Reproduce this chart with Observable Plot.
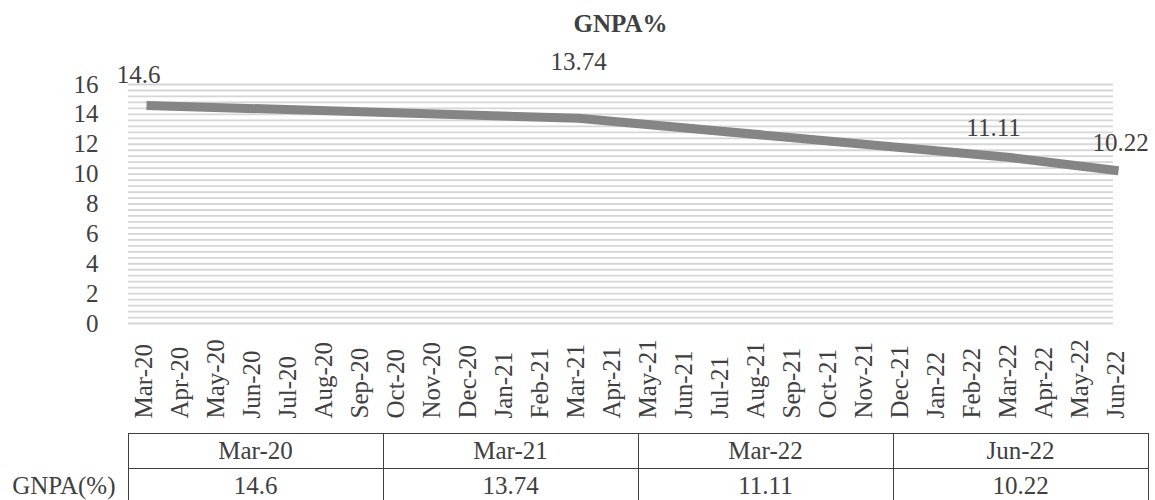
<!DOCTYPE html>
<html><head><meta charset="utf-8">
<script src="https://cdn.jsdelivr.net/npm/d3@7"></script>
<script src="https://cdn.jsdelivr.net/npm/@observablehq/plot@0.6"></script>
<style>
body{margin:0;background:#fff;width:1155px;height:500px;position:relative;overflow:hidden;font-family:"Liberation Serif","Times New Roman",serif;color:#404040;}
#title{position:absolute;left:128px;width:985px;top:0;height:48px;line-height:48px;text-align:center;font-weight:bold;font-size:25px;}
#chart{position:absolute;left:0;top:48px;}
#tbl{position:absolute;left:0;top:433px;border-collapse:collapse;font-size:25px;table-layout:fixed;color:#404040;}
#tbl td{height:34px;padding:0;text-align:center;border:1px solid #404040;}
#tbl td.lab{border:none;text-align:right;padding-right:12px;}
</style></head>
<body>
<div id="title">GNPA%</div>
<div id="chart"></div>
<table id="tbl"></table>
<script>
// ---- data ----
const months = ["Mar-20","Apr-20","May-20","Jun-20","Jul-20","Aug-20","Sep-20","Oct-20","Nov-20","Dec-20","Jan-21","Feb-21","Mar-21","Apr-21","May-21","Jun-21","Jul-21","Aug-21","Sep-21","Oct-21","Nov-21","Dec-21","Jan-22","Feb-22","Mar-22","Apr-22","May-22","Jun-22"];
const periods = ["Mar-20","Mar-21","Mar-22","Jun-22"];
const gnpa = [14.6, 13.74, 11.11, 10.22];
const yTicks = [0,2,4,6,8,10,12,14,16];
const seriesName = "GNPA(%)";

const points = periods.map((p,i)=>({period:p, m: months.indexOf(p), v: gnpa[i]}));
const monthRows = months.map((m,i)=>({label:m, m:i}));
const grid = d3.range(0, 16.0001, 0.4);

const txt = "#404040";
const plot = Plot.plot({
  width: 1155,
  height: 384,
  marginLeft: 128,
  marginRight: 42,
  marginTop: 36,
  marginBottom: 109,
  style: {fontFamily: '"Liberation Serif","Times New Roman",serif', fontSize: "25px", color: txt, background: "transparent"},
  x: {type: "linear", domain: [-0.5, 26.86], axis: null},
  y: {domain: [0, 16], axis: null},
  marks: [
    Plot.ruleY(grid, {stroke: "#d6d6d6", strokeWidth: 1.8}),
    Plot.axisY(yTicks, {tickSize: 0, tickPadding: 30, fontSize: 25, fill: txt, label: null}),
    Plot.text(monthRows, {x: "m", text: "label", frameAnchor: "bottom", dx: 5, dy: 95, rotate: -90, textAnchor: "start", fontSize: 25, fill: txt}),
    Plot.line(points, {x: "m", y: "v", stroke: "#858585", strokeWidth: 9, strokeLinecap: "butt", strokeLinejoin: "round"}),
    Plot.text(points, {filter: d => d.period === "Mar-20", x: "m", y: "v", text: d => String(d.v), dx: -8, dy: -30, fontSize: 25, fill: txt}),
    Plot.text(points, {filter: d => d.period === "Mar-21", x: "m", y: "v", text: d => String(d.v), dx: 0, dy: -56, fontSize: 25, fill: txt}),
    Plot.text(points, {filter: d => d.period === "Mar-22", x: "m", y: "v", text: d => String(d.v), dx: -17, dy: -30, fontSize: 25, fill: txt}),
    Plot.text(points, {filter: d => d.period === "Jun-22", x: "m", y: "v", text: d => String(d.v), dx: 2, dy: -28, fontSize: 25, fill: txt})
  ]
});
document.getElementById("chart").appendChild(plot);

// data table below the chart
const tbl = document.getElementById("tbl");
const cg = document.createElement("colgroup");
[128,255,255,255,255].forEach(w=>{const c=document.createElement("col");c.style.width=w+"px";cg.appendChild(c);});
tbl.appendChild(cg);
const r1 = tbl.insertRow();
const c0 = r1.insertCell(); c0.className = "lab";
periods.forEach(p=>{const c=r1.insertCell(); c.textContent=p;});
const r2 = tbl.insertRow();
const l = r2.insertCell(); l.className="lab"; l.textContent = seriesName;
gnpa.forEach(v=>{const c=r2.insertCell(); c.textContent=String(v);});
tbl.style.width = "1148px";
</script>
</body></html>
